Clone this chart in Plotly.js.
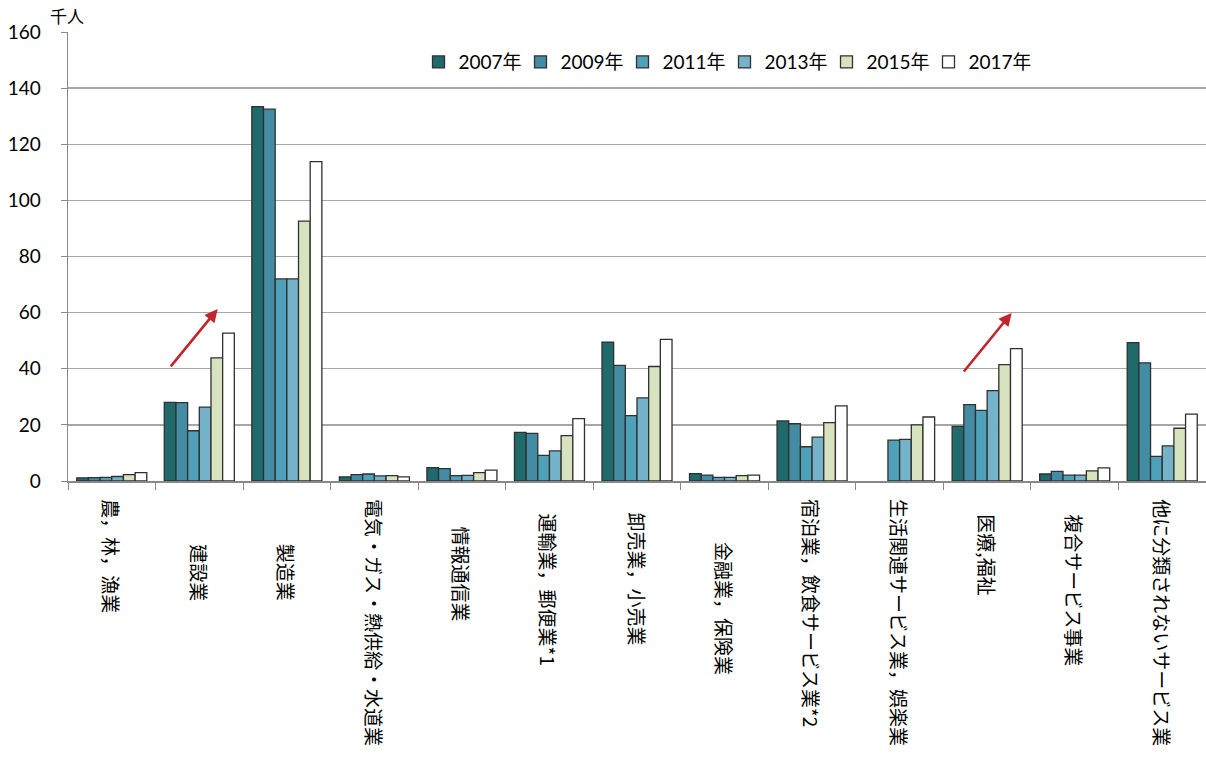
<!DOCTYPE html>
<html>
<head>
<meta charset="utf-8">
<script src="https://cdn.plot.ly/plotly-3.0.1.min.js"></script>
<style>
  html, body { margin: 0; padding: 0; background: #fff; }
  #chart { width: 1206px; height: 767px; }
</style>
</head>
<body>
<div id="chart"></div>
<script>
// Industry categories (千人)
const categories = [
  '農，林，漁業', '建設業', '製造業', '電気・ガス・熱供給・水道業', '情報通信業',
  '運輸業，郵便業*1', '卸売業，小売業', '金融業，保険業', '宿泊業，飲食サービス業*2',
  '生活関連サービス業，娯楽業', '医療,福祉', '複合サービス事業', '他に分類されないサービス業'
];

const seriesNames = ['2007年', '2009年', '2011年', '2013年', '2015年', '2017年'];

const v2007 = [1.1, 28.0, 133.4, 1.5, 4.8, 17.3, 49.5, 2.6, 21.4, null, 19.5, 2.5, 49.3];
const v2009 = [1.2, 27.9, 132.5, 2.3, 4.4, 17.0, 41.2, 2.1, 20.4, null, 27.2, 3.4, 42.1];
const v2011 = [1.3, 17.9, 72.0, 2.5, 1.9, 9.1, 23.3, 1.3, 12.2, 14.6, 25.2, 2.1, 8.8];
const v2013 = [1.6, 26.3, 72.0, 1.8, 2.0, 10.7, 29.6, 1.3, 15.6, 14.8, 32.2, 2.1, 12.5];
const v2015 = [2.3, 43.9, 92.6, 1.9, 3.0, 16.2, 40.8, 1.9, 20.8, 20.0, 41.5, 3.6, 18.8];
const v2017 = [3.0, 52.7, 113.8, 1.5, 3.9, 22.2, 50.5, 2.1, 26.8, 22.8, 47.2, 4.7, 23.8];

const seriesValues = [v2007, v2009, v2011, v2013, v2015, v2017];
const seriesColors = ['#1f6a6b', '#438ca3', '#4fa1b9', '#74b3c9', '#d7e3bf', '#ffffff'];

const yTicks = [0, 20, 40, 60, 80, 100, 120, 140, 160];

// Vertical category label drop below the axis line (px), per category
const labelDrop = [16, 61, 61, 16, 44, 31, 29, 59, 16, 16, 31, 31, 16];

const latinFont = 'Lato, "Noto Sans CJK JP", sans-serif';
const cjkFont = '"Noto Sans CJK JP", sans-serif';

const traces = seriesNames.map((name, i) => ({
  type: 'bar',
  name: name,
  x: categories,
  y: seriesValues[i],
  marker: { color: seriesColors[i], line: { color: '#303030', width: 1.3 } },
  hoverinfo: 'x+y+name'
}));

// Growth arrows over 建設業 and 医療,福祉 (x in category index units)
const arrowStyle = {
  xref: 'x', yref: 'y', axref: 'x', ayref: 'y',
  showarrow: true, arrowhead: 2, arrowsize: 1, arrowwidth: 2.6,
  arrowcolor: '#c0262b', text: ''
};

// Category names written top-to-bottom under each group
const categoryLabels = categories.map((name, i) => ({
  xref: 'x', yref: 'paper', x: name, y: 0,
  xanchor: 'center', yanchor: 'top', yshift: -labelDrop[i],
  textangle: 90, text: name, showarrow: false,
  font: { family: cjkFont, size: 19, color: '#000' }
}));

const layout = {
  width: 1206,
  height: 767,
  margin: { l: 68, r: 0, t: 32, b: 286 },
  paper_bgcolor: '#ffffff',
  plot_bgcolor: '#ffffff',
  font: { family: latinFont, size: 19, color: '#000' },
  barmode: 'group',
  bargap: 0.2,
  bargroupgap: 0,
  showlegend: true,
  legend: {
    orientation: 'h',
    x: 0.308, xanchor: 'left',
    y: 0.933, yanchor: 'middle',
    font: { family: latinFont, size: 19, color: '#000' },
    bgcolor: 'rgba(0,0,0,0)',
    itemwidth: 30,
    entrywidth: 57,
    traceorder: 'normal'
  },
  xaxis: {
    type: 'category',
    tickson: 'boundaries',
    ticks: 'outside',
    ticklen: 7,
    tickcolor: '#888888',
    showticklabels: false,
    showline: true,
    linecolor: '#888888',
    linewidth: 1.5,
    showgrid: false,
    automargin: false,
    range: [-0.5, categories.length - 0.5]
  },
  yaxis: {
    range: [0, 160],
    tickvals: yTicks,
    ticktext: yTicks.map(String),
    showgrid: true,
    gridcolor: '#a6a6a6',
    gridwidth: 1.3,
    showline: true,
    linecolor: '#888888',
    linewidth: 1.5,
    ticks: 'outside',
    ticklen: 6,
    tickcolor: '#888888',
    ticklabelstandoff: 16,
    zeroline: false,
    automargin: false,
    tickfont: { family: latinFont, size: 19, color: '#000' }
  },
  annotations: [
    Object.assign({ x: 1.21, y: 61.3, ax: 0.66, ay: 40.3 }, arrowStyle),
    Object.assign({ x: 10.28, y: 59.9, ax: 9.72, ay: 38.5 }, arrowStyle),
    {
      xref: 'paper', yref: 'paper', x: -0.0176, y: 1.0, xanchor: 'left', yanchor: 'bottom',
      yshift: 2, text: '千人', showarrow: false,
      font: { family: cjkFont, size: 17, color: '#000' }
    }
  ].concat(categoryLabels)
};

Plotly.newPlot('chart', traces, layout, { displayModeBar: false, staticPlot: true });
</script>
</body>
</html>
